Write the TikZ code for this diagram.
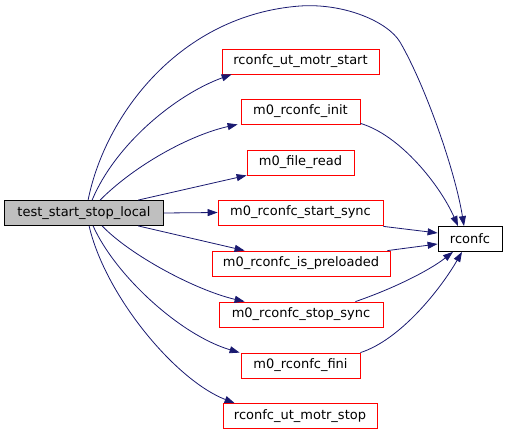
\documentclass[tikz,border=0pt]{standalone}
\usepackage{fontspec}
\setmainfont{DejaVu Sans}
\usetikzlibrary{arrows.meta}
\definecolor{edgecol}{HTML}{191970}
\tikzset{
  fn/.style={draw=red, line width=0.8pt, fill=white, minimum height=25pt, inner sep=0pt, font=\fontsize{13}{15}\selectfont, text=black},
  fnblack/.style={fn, draw=black},
  fnmain/.style={fn, draw=black, fill=black!25},
  call/.style={draw=edgecol, line width=0.8pt, -{Triangle[length=10pt,width=7pt]}, fill=none}
}
\begin{document}
\begin{tikzpicture}[x=1pt,y=-1pt]
\useasboundingbox (0,0) rectangle (507,435);
\node[fnmain, minimum width=159pt] (main) at (84,213) {test\_start\_stop\_local};
\node[fn, minimum width=157pt] (motrstart) at (300.5,61.5) {rconfc\_ut\_motr\_start};
\node[fn, minimum width=119pt] (init) at (300.5,111.5) {m0\_rconfc\_init};
\node[fn, minimum width=107pt] (fread) at (300.5,162.5) {m0\_file\_read};
\node[fn, minimum width=165pt] (ssync) at (300.5,212.5) {m0\_rconfc\_start\_sync};
\node[fn, minimum width=178pt] (preld) at (301,263.5) {m0\_rconfc\_is\_preloaded};
\node[fn, minimum width=164pt] (stsync) at (301,314.5) {m0\_rconfc\_stop\_sync};
\node[fn, minimum width=119pt] (fini) at (300.5,365.5) {m0\_rconfc\_fini};
\node[fn, minimum width=154pt] (motrstop) at (300,416) {rconfc\_ut\_motr\_stop};
\node[fnblack, minimum width=64pt] (rconfc) at (470,239) {rconfc};

\coordinate (arc1) at (300,6);
\coordinate (arc2) at (400,42);

% from test_start_stop_local
\draw[call] ([xshift=84pt]main.north west) .. controls (105,115) and (180,15) .. (arc1) .. controls (345,3) and (388,22) .. (arc2) .. controls (425,85) and (455,170) .. ([xshift=-6pt]rconfc.north);
\draw[call] ([xshift=88pt]main.north west) .. controls (115,145) and (175,95) .. ([xshift=10pt]motrstart.south west);
\draw[call] ([xshift=96pt]main.north west) .. controls (135,165) and (190,135) .. ([xshift=-3pt]init.south west);
\draw[call] ([xshift=134pt]main.north west) -- (fread.south west);
\draw[call] (main.east) -- (ssync.west);
\draw[call] ([xshift=134pt]main.south west) -- ([xshift=33pt]preld.north west);
\draw[call] ([xshift=98pt]main.south west) .. controls (130,255) and (195,290) .. ([xshift=26pt]stsync.north west);
\draw[call] ([xshift=89pt]main.south west) .. controls (115,275) and (180,335) .. ([xshift=-1pt]fini.north west);
\draw[call] ([xshift=85pt]main.south west) .. controls (105,295) and (175,380) .. ([xshift=12pt]motrstop.north west);

% to rconfc
\draw[call] ([yshift=1pt]init.south east) .. controls (400,135) and (440,185) .. ([xshift=-12pt]rconfc.north);
\draw[call] ([yshift=-1pt]ssync.south east) -- ([yshift=6pt]rconfc.west);
\draw[call] ([xshift=-3pt]preld.north east) -- ([yshift=-5pt]rconfc.west);
\draw[call] ([xshift=-28pt]stsync.north east) .. controls (395,288) and (430,270) .. ([xshift=-17pt]rconfc.south);
\draw[call] (fini.north east) .. controls (400,340) and (440,290) .. ([xshift=-8pt]rconfc.south);
\end{tikzpicture}
\end{document}
